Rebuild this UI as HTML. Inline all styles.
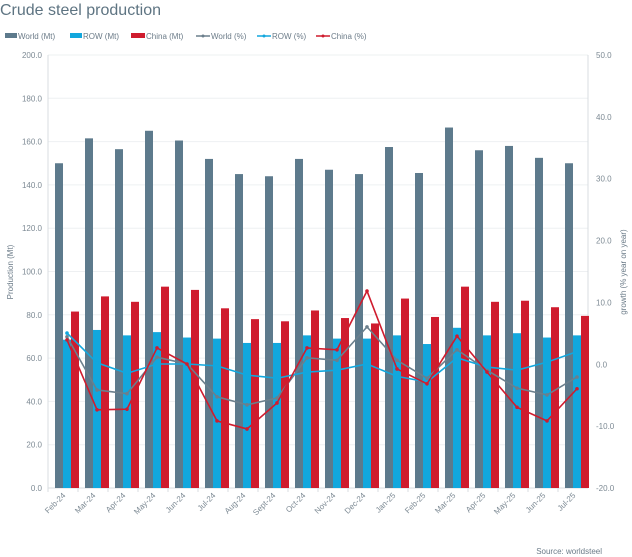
<!DOCTYPE html><html><head><style>body{margin:0;background:#fff}svg{display:block;font-family:"Liberation Sans",sans-serif}</style></head><body>
<svg id="s" width="632" height="557" xmlns="http://www.w3.org/2000/svg">
<text x="0" y="15" font-size="16" fill="#5e7482">Crude steel production</text>
<g font-size="8" fill="#6b7b88">
<rect x="5" y="33" width="12" height="5" fill="#5d7a8c"/><text x="18" y="39">World (Mt)</text>
<rect x="70" y="33" width="12" height="5" fill="#12a7dd"/><text x="83" y="39">ROW (Mt)</text>
<rect x="131" y="33" width="14" height="5" fill="#cf1c2e"/><text x="146" y="39">China (Mt)</text>
<line x1="196" y1="36" x2="210" y2="36" stroke="#6b7f8c" stroke-width="1.5"/><circle cx="203" cy="36" r="1.5" fill="#6b7f8c"/><text x="211" y="39">World (%)</text>
<line x1="257" y1="36" x2="271" y2="36" stroke="#12a7dd" stroke-width="1.5"/><circle cx="264" cy="36" r="1.5" fill="#12a7dd"/><text x="272" y="39">ROW (%)</text>
<line x1="316" y1="36" x2="330" y2="36" stroke="#cf1c2e" stroke-width="1.5"/><circle cx="323" cy="36" r="1.5" fill="#cf1c2e"/><text x="331" y="39">China (%)</text>
</g>
<g id="g"></g>
<text x="602" y="554" font-size="8" fill="#6b7b88" text-anchor="end">Source: worldsteel</text>
</svg>
<script>
var g=document.getElementById('g'),h='';
var y0=488,k=433/200,x0=48,cw=30;
var W=[150,161.5,156.5,165,160.5,152,145,144,152,147,145,157.5,145.5,166.5,156,158,152.5,150];
var R=[68.5,73,70.5,72,69.5,69,67,67,70.5,69,69,70.5,66.5,74,70.5,71.5,69.5,70.5];
var C=[81.5,88.5,86,93,91.5,83,78,77,82,78.5,76,87.5,79,93,86,86.5,83.5,79.5];
var PW=[4.4,-4.2,-4.8,1.1,0,-5.3,-6.6,-5.5,1,0.6,6,0.6,-2.3,2.3,-1,-3.9,-5,-2.1];
var PR=[5,0.2,-1.5,0,0,-0.3,-1.8,-2.3,-1.3,-1,0,-2,-2.9,1,-0.5,-1,0.3,2];
var PC=[3.9,-7.4,-7.3,2.6,0,-9.2,-10.5,-6.3,2.6,2.3,11.8,-0.8,-3.2,4.5,-1.3,-7,-9.2,-4];
var L=['Feb-24','Mar-24','Apr-24','May-24','Jun-24','Jul-24','Aug-24','Sept-24','Oct-24','Nov-24','Dec-24','Jan-25','Feb-25','Mar-25','Apr-25','May-25','Jun-25','Jul-25'];
for(var i=0;i<=10;i++){var y=y0-i*20*k;h+='<line x1="48" x2="588" y1="'+y+'" y2="'+y+'" stroke="#eef0f2"/>';
h+='<text x="42" y="'+(y+3)+'" font-size="8" fill="#7d8a94" text-anchor="end">'+(i*20).toFixed(1)+'</text>';}
for(var i=0;i<=7;i++){var y=y0-i*10*433/70;h+='<text x="596" y="'+(y+3)+'" font-size="8" fill="#7d8a94">'+(i*10-20).toFixed(1)+'</text>';}
h+='<line x1="48" x2="48" y1="55" y2="488" stroke="#d8dde0"/><line x1="588" x2="588" y1="55" y2="488" stroke="#d8dde0"/><line x1="48" x2="588" y1="488" y2="488" stroke="#d8dde0"/>';
function bar(x,v,c){h+='<rect x="'+x+'" y="'+(y0-v*k)+'" width="8" height="'+(v*k)+'" fill="'+c+'"/>';}
for(var i=0;i<18;i++){var x=x0+i*cw;bar(x+7,W[i],'#5d7a8c');bar(x+15,R[i],'#12a7dd');bar(x+23,C[i],'#cf1c2e');
h+='<line x1="'+x+'" x2="'+x+'" y1="488" y2="492" stroke="#d8dde0"/>';
var cx=x+16;h+='<text transform="translate('+(cx+2)+',496) rotate(-45)" font-size="8" fill="#7d8a94" text-anchor="end">'+L[i]+'</text>';}
function line(P,c){var p='';for(var i=0;i<18;i++){p+=(x0+i*cw+19)+','+(364-P[i]*433/70)+' ';}
h+='<polyline points="'+p+'" fill="none" stroke="'+c+'" stroke-width="1.6"/>';
for(var i=0;i<18;i++)h+='<circle cx="'+(x0+i*cw+19)+'" cy="'+(364-P[i]*433/70)+'" r="1.8" fill="'+c+'"/>';}
line(PW,'#6b7f8c');line(PR,'#12a7dd');line(PC,'#cf1c2e');
h+='<text transform="translate(13,272) rotate(-90)" font-size="8" fill="#6b7b88" text-anchor="middle">Production (Mt)</text>';
h+='<text transform="translate(626,272) rotate(-90)" font-size="8" fill="#6b7b88" text-anchor="middle">growth (% year on year)</text>';
g.innerHTML=h;
</script></body></html>
